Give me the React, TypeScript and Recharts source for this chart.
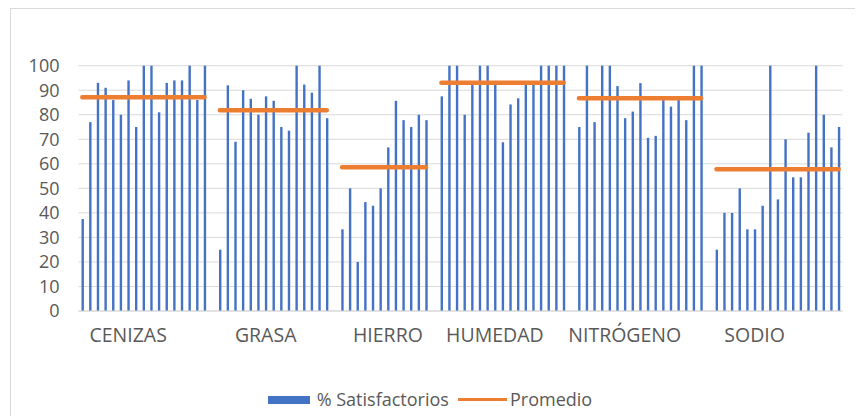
import { ComposedChart, Bar, Line, XAxis, YAxis, CartesianGrid } from 'recharts';

const groups = ['CENIZAS', 'GRASA', 'HIERRO', 'HUMEDAD', 'NITRÓGENO', 'SODIO'];

const cenizas = [37.5, 77, 93, 91, 86, 80, 94, 75, 100, 100, 81, 93, 94, 94, 100, 86, 100];
const grasa = [25, 92, 69, 90, 86.5, 80, 87.5, 85.7, 75, 73.5, 100, 92.3, 89, 100, 78.6];
const hierro = [33.3, 50, 20, 44.4, 42.9, 50, 66.7, 85.7, 77.8, 75, 80, 77.8];
const humedad = [87.5, 100, 100, 80, 92.3, 100, 100, 92.3, 68.8, 84.2, 86.7, 92.3, 92.3, 100, 100, 100, 100];
const nitrogeno = [75, 100, 77, 100, 100, 91.7, 78.6, 81.3, 92.9, 70.6, 71.4, 86, 83.3, 86, 77.8, 100, 100];
const sodio = [25, 40, 40, 50, 33.3, 33.3, 42.9, 100, 45.5, 70, 54.5, 54.5, 72.7, 100, 80, 66.7, 75];

const satisfactorios = [cenizas, grasa, hierro, humedad, nitrogeno, sodio];
const promedios = [87.1, 81.8, 58.6, 93.1, 86.7, 57.8];
// which bar in each group carries the category label
const labelAt = [6, 6, 6, 7, 6, 5];

const yTicks = [0, 10, 20, 30, 40, 50, 60, 70, 80, 90, 100];

type Row = { slot: number; label: string; value: number | null; promedio: number | null };

const rows: Row[] = [];
satisfactorios.forEach((vals, g) => {
  if (g > 0) rows.push({ slot: rows.length, label: '', value: null, promedio: null });
  vals.forEach((v, i) => {
    rows.push({
      slot: rows.length,
      label: i === labelAt[g] ? groups[g] : '',
      value: v,
      promedio: promedios[g],
    });
  });
});

const FONT = '"Open Sans", "Noto Sans", sans-serif';
const TEXT = '#595959';

function GroupTick(props: any) {
  const { x, y, payload } = props;
  const row = rows[payload.index];
  if (!row || !row.label) return null;
  return (
    <text x={x} y={y} dy={30.7} textAnchor="middle" fill={TEXT} fontSize={19.5} fontFamily={FONT}>
      {row.label}
    </text>
  );
}

export default function App() {
  return (
    <div style={{ position: 'relative', width: 855, height: 408 }}>
      <div
        style={{
          position: 'absolute',
          left: 2,
          top: 0,
          right: 0,
          bottom: 0,
          borderLeft: '1px solid #d9d9d9',
          borderTop: '1px solid #d9d9d9',
        }}
      />
      <ComposedChart
        width={855}
        height={408}
        data={rows}
        margin={{ top: 57.7, right: 20.5, left: 10.5, bottom: 65 }}
        barCategoryGap={0}
        style={{ position: 'absolute', left: 0, top: 0 }}
      >
        <CartesianGrid vertical={false} stroke="#d9d9d9" />
        <XAxis
          dataKey="slot"
          type="category"
          interval={0}
          height={40}
          axisLine={{ stroke: '#d9d9d9' }}
          tickLine={false}
          tickSize={0}
          tickMargin={0}
          tick={<GroupTick />}
        />
        <YAxis
          domain={[0, 100]}
          ticks={yTicks}
          interval={0}
          width={60}
          axisLine={false}
          tickLine={false}
          tickSize={0}
          tickMargin={19}
          tick={{ fill: TEXT, fontSize: 18, fontFamily: FONT }}
        />
        <Bar dataKey="value" fill="#4472C4" barSize={2.4} isAnimationActive={false} />
        <Line
          dataKey="promedio"
          stroke="#ED7D31"
          strokeWidth={4.5}
          strokeLinecap="round"
          dot={false}
          activeDot={false}
          connectNulls={false}
          isAnimationActive={false}
        />
      </ComposedChart>
      <div style={{ position: 'absolute', left: 260, top: 388, width: 42, height: 7.5, background: '#4472C4' }} />
      <span
        style={{ position: 'absolute', left: 308.7, top: 380.7, lineHeight: '20px', fontSize: 18, fontFamily: FONT, color: TEXT, whiteSpace: 'nowrap' }}
      >
        % Satisfactorios
      </span>
      <div style={{ position: 'absolute', left: 450, top: 390, width: 49, height: 3, background: '#ED7D31' }} />
      <span
        style={{ position: 'absolute', left: 502, top: 380.7, lineHeight: '20px', fontSize: 18, fontFamily: FONT, color: TEXT, whiteSpace: 'nowrap' }}
      >
        Promedio
      </span>
    </div>
  );
}
